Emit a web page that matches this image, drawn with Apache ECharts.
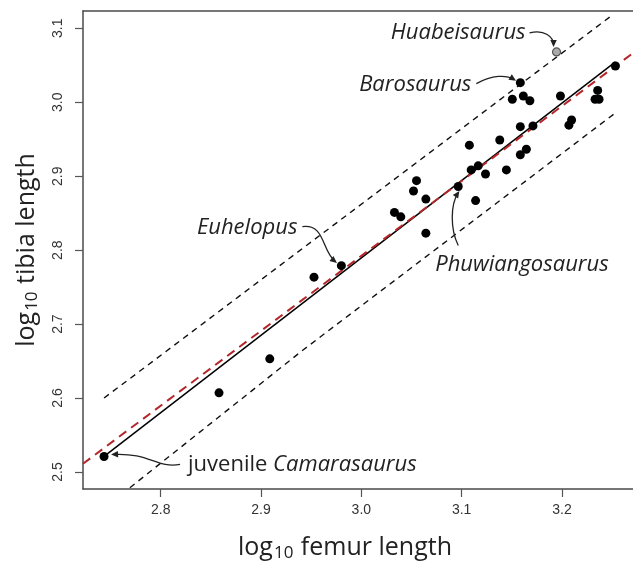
<!DOCTYPE html>
<html>
<head>
<meta charset="utf-8">
<script src="https://cdn.jsdelivr.net/npm/echarts@6/dist/echarts.min.js"></script>
<style>
  html, body { margin: 0; padding: 0; background: #fff; }
  #chart { width: 633px; height: 562px; }
</style>
</head>
<body>
<div id="chart"></div>
<script>
// log10 femur / tibia lengths
const femur = [2.7435, 2.8581, 2.9087, 2.9528, 2.9801, 3.0330, 3.0393, 3.0550, 3.0520, 3.0643,
  3.0643, 3.0966, 3.1077, 3.1095, 3.1165, 3.1139, 3.1238, 3.1380, 3.1446, 3.1505,
  3.1585, 3.1615, 3.1680, 3.1585, 3.1711, 3.1585, 3.1645, 3.1985, 3.2096, 3.2069,
  3.2356, 3.2330, 3.2370, 3.2533];
const tibia = [2.521, 2.607, 2.653, 2.7635, 2.779, 2.851, 2.845, 2.894, 2.880, 2.869,
  2.823, 2.886, 2.942, 2.9085, 2.914, 2.867, 2.903, 2.949, 2.9085, 3.004,
  3.0265, 3.0085, 3.002, 2.967, 2.968, 2.929, 2.9365, 3.0085, 2.976, 2.969,
  3.016, 3.004, 3.004, 3.049];
// Huabeisaurus (grey point)
const huabeiFemur = [3.1946];
const huabeiTibia = [3.068];

// fitted lines (x, y endpoints)
const fitX = [2.7435, 3.2533];
const fitY = [2.521, 3.0545];
const redX = [2.7225, 3.2760];
const redY = [2.5112, 3.0718];
const upperX = [2.7435, 3.2503];
const upperY = [2.600, 3.118];
const lowerX = [2.7435, 2.9419, 3.2537];
const lowerY = [2.451, 2.665, 2.986];

const xTicks = [2.8, 2.9, 3.0, 3.1, 3.2];
const yTicks = [2.5, 2.6, 2.7, 2.8, 2.9, 3.0, 3.1];

const zip = (a, b) => a.map((v, i) => [v, b[i]]);

const chart = echarts.init(document.getElementById('chart'));
const labelFont = 'Open Sans';
const tickFont = '"Liberation Sans", Arial, sans-serif';
const frame = { show: true, lineStyle: { color: '#4a4a4a', width: 1.5 } };

const option = {
  animation: false,
  grid: { left: 83, top: 11, right: -6, bottom: 73, show: false, containLabel: false, outerBoundsMode: 'none' },
  xAxis: [{
    type: 'value', min: 2.7225, max: 3.2768, position: 'bottom',
    splitLine: { show: false },
    axisLine: frame,
    axisTick: { show: true, length: 8, lineStyle: { color: '#555', width: 1.2 }, customValues: xTicks },
    axisLabel: { customValues: xTicks, formatter: v => v.toFixed(1), fontFamily: tickFont, fontSize: 14, color: '#333', margin: 14 },
    name: '{a|log}{s|10}{a| femur length}',
    nameLocation: 'middle', nameGap: 44,
    nameTextStyle: {
      padding: [0, 32, 0, 0],
      rich: {
        a: { fontFamily: labelFont, fontSize: 25, color: '#222' },
        s: { fontFamily: labelFont, fontSize: 17, color: '#222', padding: [12, 1, 0, 1] }
      }
    }
  }, {
    // top edge of the box only
    type: 'value', min: 2.7225, max: 3.2768, position: 'top',
    splitLine: { show: false }, axisLine: frame,
    axisTick: { show: false }, axisLabel: { show: false }
  }],
  yAxis: {
    type: 'value', min: 2.477, max: 3.1234,
    splitLine: { show: false },
    axisLine: frame,
    axisTick: { show: true, length: 8, lineStyle: { color: '#555', width: 1.2 }, customValues: yTicks },
    axisLabel: { customValues: yTicks, formatter: v => v.toFixed(1), rotate: 90, fontFamily: tickFont, fontSize: 14, color: '#333', margin: 18 },
    name: '{a|log}{s|10}{a| tibia length}',
    nameLocation: 'middle', nameGap: 42, nameRotate: 90,
    nameTextStyle: {
      rich: {
        a: { fontFamily: labelFont, fontSize: 25, color: '#222' },
        s: { fontFamily: labelFont, fontSize: 17, color: '#222', padding: [12, 1, 0, 1] }
      }
    }
  },
  series: [
    { type: 'line', data: zip(upperX, upperY), symbol: 'none', lineStyle: { color: '#111', width: 1.4, type: [6, 5] }, z: 2 },
    { type: 'line', data: zip(lowerX, lowerY), symbol: 'none', lineStyle: { color: '#111', width: 1.4, type: [6, 5] }, z: 2 },
    { type: 'line', data: zip(fitX, fitY), symbol: 'none', lineStyle: { color: '#000', width: 1.5 }, z: 3 },
    { type: 'line', data: zip(redX, redY), symbol: 'none', lineStyle: { color: '#b5262b', width: 2, type: [9, 6] }, z: 4 },
    { type: 'scatter', data: zip(femur, tibia), symbolSize: 9, itemStyle: { color: '#000', opacity: 1 }, z: 5 },
    { type: 'scatter', data: zip(huabeiFemur, huabeiTibia), symbolSize: 8,
      itemStyle: { color: '#aaa', borderColor: '#555', borderWidth: 1.2, opacity: 1 }, z: 5 }
  ]
};
chart.setOption(option);

// annotations: label + curved arrow, offsets (px) relative to the pointed-at specimen
const notes = [
  { at: [huabeiFemur[0], huabeiTibia[0]], text: '{i|Huabeisaurus}', align: 'right', tx: -31, ty: -19,
    path: [[-27, -19], [-12, -23], [-3, -15], [-3, -7]] },
  { at: [femur[20], tibia[20]], text: '{i|Barosaurus}', align: 'right', tx: -49, ty: 2,
    path: [[-44, 1], [-28, -8], [-14, -8], [-6, -3]] },
  { at: [femur[4], tibia[4]], text: '{i|Euhelopus}', align: 'right', tx: -44, ty: -38,
    path: [[-39, -39], [-16, -42], [-20, -15], [-6, -4]] },
  { at: [femur[11], tibia[11]], text: '{i|Phuwiangosaurus}', align: 'left', tx: -23, ty: 78,
    path: [[0, 59], [-8, 43], [-8, 18], [0, 6]] },
  { at: [femur[0], tibia[0]], text: '{n|juvenile }{i|Camarasaurus}', align: 'left', tx: 84, ty: 8,
    path: [[76, 8], [52, 12], [46, -4], [9, -2]] }
];

const graphics = [];
notes.forEach(n => {
  const p = chart.convertToPixel({ xAxisIndex: 0, yAxisIndex: 0 }, n.at);
  graphics.push({
    type: 'text', x: p[0] + n.tx, y: p[1] + n.ty, z: 10,
    style: {
      text: n.text, align: n.align, verticalAlign: 'middle',
      rich: {
        i: { fontFamily: labelFont, fontStyle: 'italic', fontSize: 22, fill: '#222' },
        n: { fontFamily: labelFont, fontSize: 22, fill: '#222' }
      }
    }
  });
  const q = n.path.map(d => [p[0] + d[0], p[1] + d[1]]);
  graphics.push({
    type: 'bezierCurve', z: 10,
    shape: { x1: q[0][0], y1: q[0][1], cpx1: q[1][0], cpy1: q[1][1], cpx2: q[2][0], cpy2: q[2][1], x2: q[3][0], y2: q[3][1] },
    style: { stroke: '#222', lineWidth: 1.3, fill: null }
  });
  // arrow head along the last tangent
  const dx = q[3][0] - q[2][0], dy = q[3][1] - q[2][1];
  const len = Math.hypot(dx, dy) || 1;
  const ux = dx / len, uy = dy / len;
  const hl = 7, hw = 3.2;
  const tip = [q[3][0] + ux * 2, q[3][1] + uy * 2];
  graphics.push({
    type: 'polygon', z: 10,
    shape: { points: [tip,
      [tip[0] - ux * hl - uy * hw, tip[1] - uy * hl + ux * hw],
      [tip[0] - ux * hl + uy * hw, tip[1] - uy * hl - ux * hw]] },
    style: { fill: '#222' }
  });
});
chart.setOption({ graphic: graphics });
</script>
</body>
</html>
